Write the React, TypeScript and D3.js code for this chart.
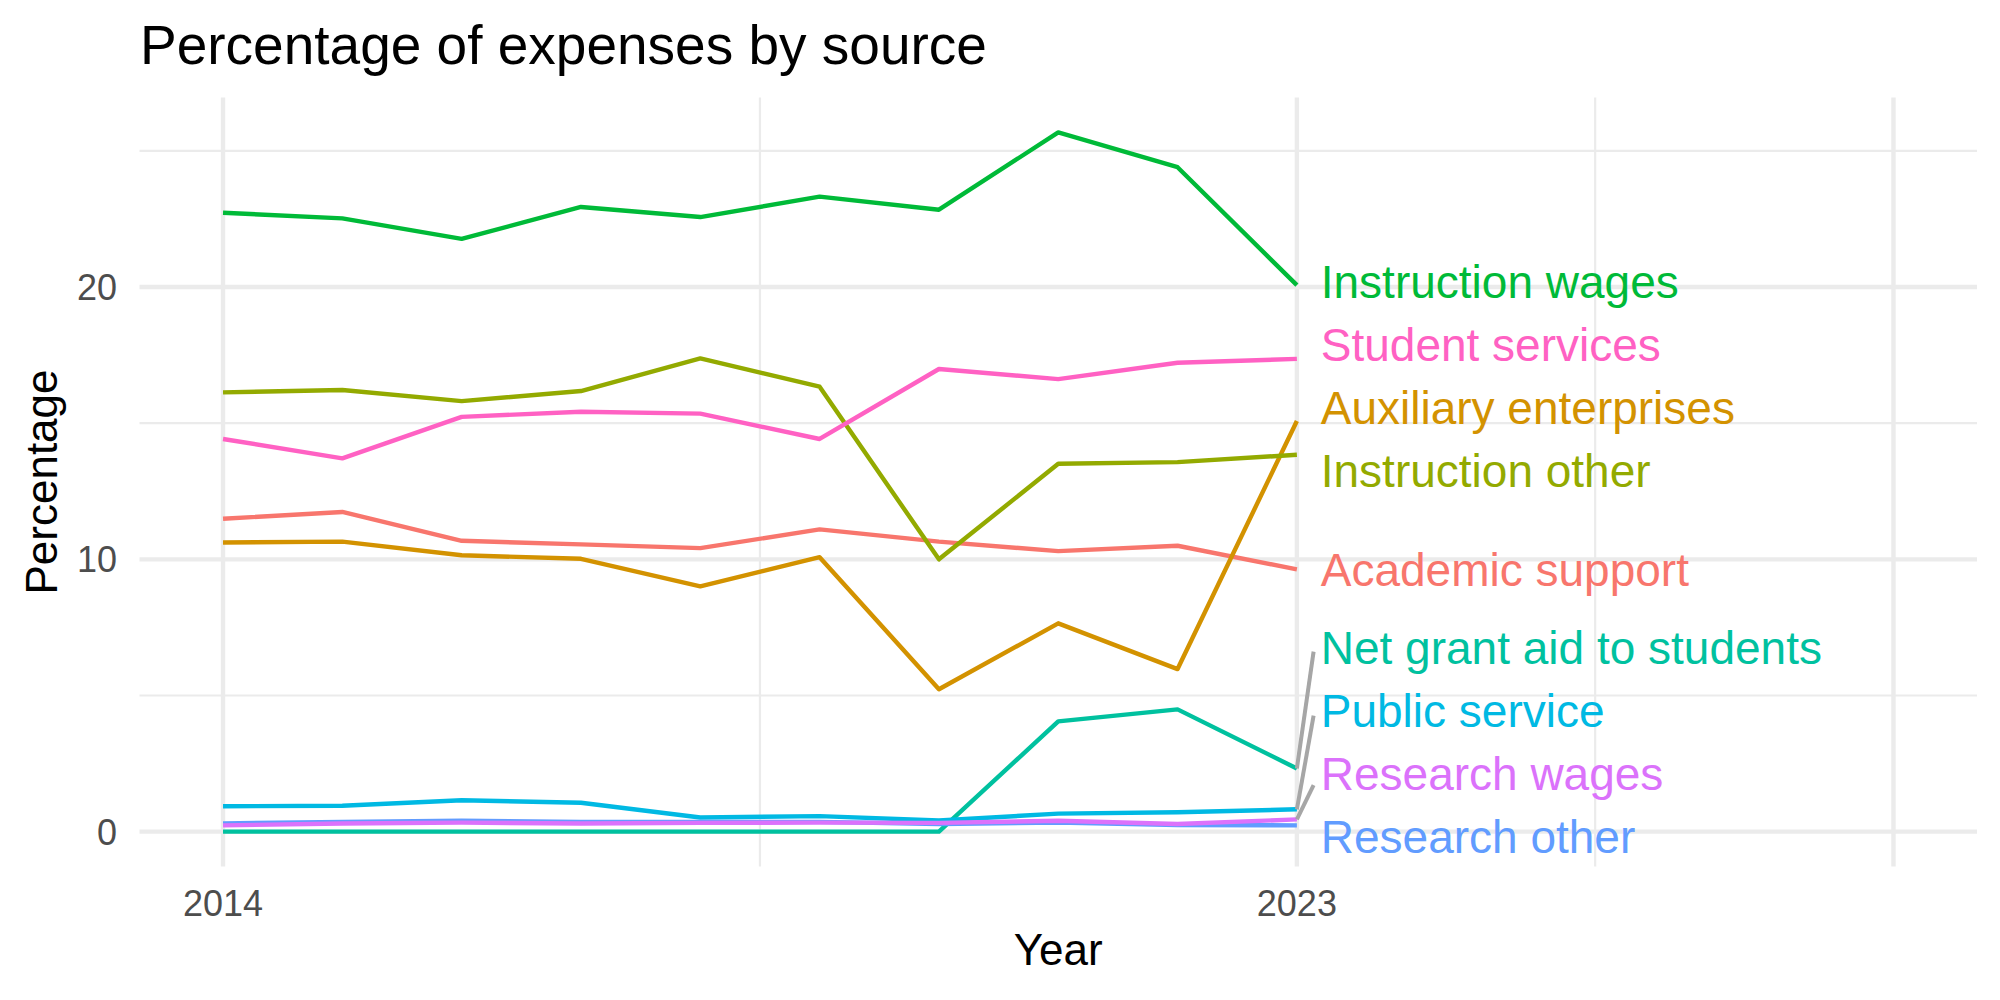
import * as d3 from 'd3'

const years = [2014, 2015, 2016, 2017, 2018, 2019, 2020, 2021, 2022, 2023]

const academicSupport = [11.49, 11.74, 10.68, 10.55, 10.41, 11.1, 10.65, 10.3, 10.5, 9.63]
const auxiliaryEnterprises = [10.62, 10.65, 10.15, 10.02, 9.01, 10.08, 5.23, 7.65, 5.97, 15.08]
const instructionOther = [16.13, 16.22, 15.81, 16.18, 17.38, 16.34, 10.0, 13.51, 13.57, 13.84]
const instructionWages = [22.73, 22.52, 21.77, 22.94, 22.57, 23.32, 22.84, 25.68, 24.4, 20.07]
const netGrantAid = [0, 0, 0, 0, 0, 0, 0, 4.05, 4.49, 2.32]
const publicService = [0.93, 0.95, 1.15, 1.06, 0.52, 0.57, 0.41, 0.66, 0.71, 0.82]
const researchOther = [0.3, 0.36, 0.4, 0.36, 0.36, 0.36, 0.28, 0.33, 0.24, 0.23]
const researchWages = [0.23, 0.3, 0.33, 0.3, 0.32, 0.33, 0.32, 0.4, 0.28, 0.45]
const studentServices = [14.42, 13.71, 15.23, 15.42, 15.35, 14.42, 16.99, 16.62, 17.22, 17.36]

const sources = [
  'Academic support',
  'Auxiliary enterprises',
  'Instruction other',
  'Instruction wages',
  'Net grant aid to students',
  'Public service',
  'Research other',
  'Research wages',
  'Student services',
]
const seriesValues = [
  academicSupport,
  auxiliaryEnterprises,
  instructionOther,
  instructionWages,
  netGrantAid,
  publicService,
  researchOther,
  researchWages,
  studentServices,
]
const colors = ['#F8766D', '#D39200', '#93AA00', '#00BA38', '#00C19F', '#00B9E3', '#619CFF', '#DB72FB', '#FF61C3']

// repelled label positions (data units) at the right end
const labelY = [9.6, 15.57, 13.25, 20.17, 6.76, 4.43, -0.18, 2.13, 17.87]
// which labels get a connector segment, and where it ends
const segmentEnd: (number | null)[] = [null, null, null, null, 6.61, 4.26, null, 1.71, null]

const xBreaks = [2014, 2023, 2028]
const xLabels = ['2014', '2023', '']
const xMinor = [2018.5, 2025.5]
const yBreaks = [0, 10, 20]
const yMinor = [5, 15, 25]

const FONT = '"Liberation Sans", Arial, Helvetica, sans-serif'

export default function App() {
  const W = 2000
  const H = 1000
  const left = 139.5
  const right = 1977
  const top = 97.4
  const bottom = 866.6

  const x = d3.scaleLinear().domain([2013.3, 2028.7]).range([left, right])
  const allVals = seriesValues.flat()
  const [lo, hi] = d3.extent(allVals) as [number, number]
  const pad = (hi - lo) * 0.05
  const y = d3.scaleLinear().domain([lo - pad, hi + pad]).range([bottom, top])

  const line = d3
    .line<number>()
    .x((_, i) => x(years[i]))
    .y((d) => y(d))

  const lastYear = years[years.length - 1]
  const labelX = x(lastYear + 0.2)

  return (
    <svg
      width={W}
      height={H}
      style={{ position: 'absolute', left: 0, top: 0, background: '#fff' }}
      fontFamily={FONT}
    >
      <rect width={W} height={H} fill="#fff" />

      {/* grid */}
      {yMinor.map((v) => (
        <line key={'ym' + v} x1={left} x2={right} y1={y(v)} y2={y(v)} stroke="#EBEBEB" strokeWidth={2.2} />
      ))}
      {xMinor.map((v) => (
        <line key={'xm' + v} x1={x(v)} x2={x(v)} y1={top} y2={bottom} stroke="#EBEBEB" strokeWidth={2.2} />
      ))}
      {yBreaks.map((v) => (
        <line key={'yM' + v} x1={left} x2={right} y1={y(v)} y2={y(v)} stroke="#EBEBEB" strokeWidth={4.4} />
      ))}
      {xBreaks.map((v) => (
        <line key={'xM' + v} x1={x(v)} x2={x(v)} y1={top} y2={bottom} stroke="#EBEBEB" strokeWidth={4.4} />
      ))}

      {/* series */}
      {seriesValues.map((vals, i) => (
        <path
          key={sources[i]}
          d={line(vals) ?? ''}
          fill="none"
          stroke={colors[i]}
          strokeWidth={4.4}
          strokeLinejoin="round"
        />
      ))}

      {/* repel segments */}
      {segmentEnd.map((end, i) =>
        end === null ? null : (
          <line
            key={'seg' + i}
            x1={x(lastYear)}
            y1={y(seriesValues[i][seriesValues[i].length - 1])}
            x2={x(lastYear + 0.14)}
            y2={y(end)}
            stroke="#A6A6A6"
            strokeWidth={4}
          />
        )
      )}

      {/* labels */}
      {sources.map((s, i) => (
        <text
          key={'lab' + s}
          x={labelX}
          y={y(labelY[i])}
          dominantBaseline="central"
          fontSize={46}
          fill={colors[i]}
        >
          {s}
        </text>
      ))}

      {/* axes text */}
      {yBreaks.map((v) => (
        <text key={'yt' + v} x={117} y={y(v) + 13} textAnchor="end" fontSize={36} fill="#4D4D4D">
          {v}
        </text>
      ))}
      {xBreaks.map((v, i) => (
        <text key={'xt' + v} x={x(v)} y={916} textAnchor="middle" fontSize={36} fill="#4D4D4D">
          {xLabels[i]}
        </text>
      ))}

      <text x={(left + right) / 2} y={965} textAnchor="middle" fontSize={44} fill="#000">
        Year
      </text>
      <text transform={`translate(57, ${(top + bottom) / 2}) rotate(-90)`} textAnchor="middle" fontSize={44} fill="#000">
        Percentage
      </text>
      <text x={140} y={64} fontSize={55} fill="#000">
        Percentage of expenses by source
      </text>
    </svg>
  )
}
